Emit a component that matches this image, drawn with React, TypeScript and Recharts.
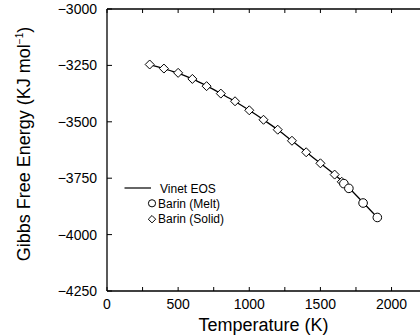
import React from 'react';
import { ComposedChart, Line, Scatter, XAxis, YAxis } from 'recharts';

const FONT = "'Liberation Sans', Arial, Helvetica, sans-serif";

// Vinet EOS curve
const eosTemps = [300, 400, 500, 600, 700, 800, 900, 1000, 1100, 1200, 1300, 1400, 1500, 1600, 1700, 1800, 1900];
const eosEnergy = [-3246, -3264, -3284, -3310, -3341, -3375, -3410, -3449, -3491, -3535, -3584, -3634, -3684, -3734, -3792, -3858, -3924];

// Barin, solid phase
const solidTemps = [300, 400, 500, 600, 700, 800, 900, 1000, 1100, 1200, 1300, 1400, 1500, 1600, 1650];
const solidEnergy = [-3246, -3264, -3283, -3310, -3342, -3375, -3409, -3449, -3491, -3535, -3584, -3635, -3684, -3734, -3766];

// Barin, melt
const meltTemps = [1665, 1700, 1800, 1900];
const meltEnergy = [-3774, -3795, -3860, -3924];

const xTicks = [0, 250, 500, 750, 1000, 1250, 1500, 1750, 2000];
const yTicks = [-4250, -4000, -3750, -3500, -3250, -3000];

const eosData = eosTemps.map((t, i) => ({ t, g: eosEnergy[i] }));
const solidData = solidTemps.map((t, i) => ({ t, g: solidEnergy[i] }));
const meltData = meltTemps.map((t, i) => ({ t, g: meltEnergy[i] }));

const fmt = (v: number) => (v < 0 ? '\u2212' + Math.abs(v) : String(v));

const BottomTick = (props: any) => {
  const { x, y, payload } = props;
  const major = payload.value % 500 === 0;
  return (
    <g>
      <line x1={x} x2={x} y1={y} y2={y - 4} stroke="#000" strokeWidth={1} />
      {major && (
        <text x={x} y={y + 17.5} textAnchor="middle" fontSize={14} fontFamily={FONT} fill="#000">
          {payload.value}
        </text>
      )}
    </g>
  );
};

const TopTick = (props: any) => {
  const { x, y } = props;
  return <line x1={x} x2={x} y1={y} y2={y + 4} stroke="#000" strokeWidth={1} />;
};

const LeftTick = (props: any) => {
  const { x, y, payload } = props;
  return (
    <g>
      <line x1={x} x2={x + 5} y1={y} y2={y} stroke="#000" strokeWidth={1} />
      <text x={x - 10} y={y + 5} textAnchor="end" fontSize={14} fontFamily={FONT} fill="#000">
        {fmt(payload.value)}
      </text>
    </g>
  );
};

const Diamond = (props: any) => {
  const { cx, cy } = props;
  const r = 4.5;
  return (
    <path
      d={`M${cx},${cy - r}L${cx + r},${cy}L${cx},${cy + r}L${cx - r},${cy}Z`}
      fill="#fff"
      stroke="#000"
      strokeWidth={1}
    />
  );
};

const Ring = (props: any) => {
  const { cx, cy } = props;
  return <circle cx={cx} cy={cy} r={4.3} fill="#fff" stroke="#000" strokeWidth={1} />;
};

const YTitle = () => (
  <text
    x={30}
    y={144}
    transform="rotate(-90, 30, 144)"
    textAnchor="middle"
    fontSize={18}
    fontFamily={FONT}
    fill="#000"
  >
    Gibbs Free Energy (KJ mol
    <tspan dy={-7} fontSize={10}>{'\u22121'}</tspan>
    <tspan dy={7}>)</tspan>
  </text>
);

const XTitle = (props: any) => {
  const vb = props.viewBox || {};
  return (
    <text x={vb.x + vb.width / 2} y={331} textAnchor="middle" fontSize={18} fontFamily={FONT} fill="#000">
      Temperature (K)
    </text>
  );
};

const LegendBox = () => (
  <svg width={420} height={335} style={{ position: 'absolute', left: 0, top: 0, pointerEvents: 'none' }}>
    <g fontFamily={FONT} fontSize={12} fill="#000">
      <line x1={124.5} x2={151} y1={188} y2={188} stroke="#000" strokeWidth={1.2} />
      <text x={160} y={192.5}>Vinet EOS</text>
      <circle cx={152} cy={203.3} r={3.6} fill="#fff" stroke="#000" strokeWidth={1} />
      <text x={158} y={207.7}>Barin (Melt)</text>
      <path d="M152,215.5L155.7,219.2L152,222.9L148.3,219.2Z" fill="#fff" stroke="#000" strokeWidth={1} />
      <text x={158} y={223.3}>Barin (Solid)</text>
    </g>
  </svg>
);

export default function App() {
  return (
    <div style={{ position: 'absolute', left: 0, top: 0, width: 420, height: 335, background: '#fff' }}>
      <ComposedChart width={420} height={335} margin={{ top: 0, right: 0, bottom: 0, left: 0 }}>
        <XAxis
          xAxisId="bottom"
          dataKey="t"
          type="number"
          domain={[0, 2200]}
          allowDataOverflow
          ticks={xTicks}
          interval={0}
          height={44}
          tickSize={0}
          tickMargin={0}
          tickLine={false}
          axisLine={{ stroke: '#000', strokeWidth: 1.3 }}
          tick={<BottomTick />}
          label={{ content: <XTitle /> }}
        />
        <XAxis
          xAxisId="top"
          dataKey="t"
          orientation="top"
          type="number"
          domain={[0, 2200]}
          allowDataOverflow
          ticks={xTicks}
          interval={0}
          height={9}
          tickSize={0}
          tickMargin={0}
          tickLine={false}
          axisLine={{ stroke: '#000', strokeWidth: 1.3 }}
          tick={<TopTick />}
        />
        <YAxis
          yAxisId="left"
          type="number"
          domain={[-4250, -3000]}
          allowDataOverflow
          ticks={yTicks}
          interval={0}
          width={107}
          tickSize={0}
          tickMargin={0}
          tickLine={false}
          axisLine={{ stroke: '#000', strokeWidth: 1.3 }}
          tick={<LeftTick />}
          label={{ content: <YTitle /> }}
        />
        {/* invisible series so the top frame axis gets drawn */}
        <Line
          xAxisId="top"
          yAxisId="left"
          data={eosData}
          dataKey="g"
          stroke="none"
          dot={false}
          activeDot={false}
          legendType="none"
          isAnimationActive={false}
        />
        <Line
          xAxisId="bottom"
          yAxisId="left"
          data={eosData}
          dataKey="g"
          type="monotone"
          stroke="#000"
          strokeWidth={1.3}
          dot={false}
          activeDot={false}
          isAnimationActive={false}
        />
        <Scatter
          xAxisId="bottom"
          yAxisId="left"
          data={solidData}
          dataKey="g"
          shape={<Diamond />}
          isAnimationActive={false}
        />
        <Scatter
          xAxisId="bottom"
          yAxisId="left"
          data={meltData}
          dataKey="g"
          shape={<Ring />}
          isAnimationActive={false}
        />
      </ComposedChart>
      <LegendBox />
    </div>
  );
}
